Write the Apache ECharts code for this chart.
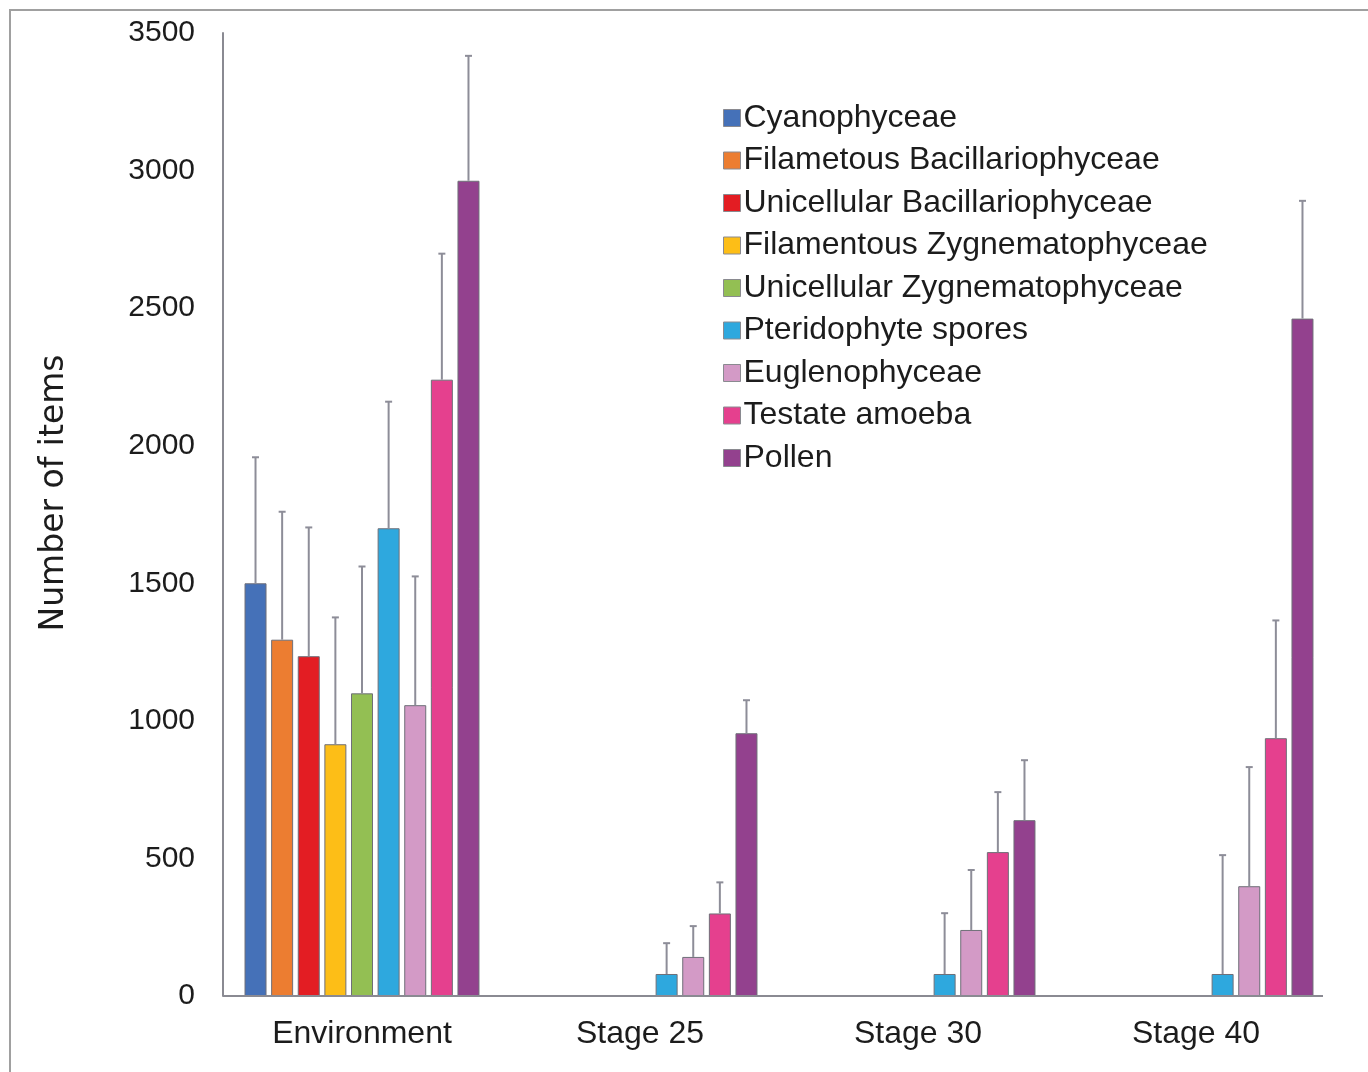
<!DOCTYPE html>
<html>
<head>
<meta charset="utf-8">
<title>Number of items by group</title>
<script src="https://cdn.jsdelivr.net/npm/echarts@6/dist/echarts.min.js"></script>
<style>
  html, body { margin: 0; padding: 0; background: #fff; }
  #chart { width: 1368px; height: 1072px; }
</style>
</head>
<body>
<div id="chart"></div>
<script>
// Groups along the x axis
const categories = ['Environment', 'Stage 25', 'Stage 30', 'Stage 40'];

// Taxa shown as bars, in legend order
const taxa = [
  'Cyanophyceae',
  'Filametous Bacillariophyceae',
  'Unicellular Bacillariophyceae',
  'Filamentous Zygnematophyceae',
  'Unicellular Zygnematophyceae',
  'Pteridophyte spores',
  'Euglenophyceae',
  'Testate amoeba',
  'Pollen'
];

// Mean counts per group (null = not recorded)
const cyanophyceae     = [1500, null, null, null];
const filBacillario    = [1295, null, null, null];
const uniBacillario    = [1235, null, null, null];
const filZygnemato     = [915,  null, null, null];
const uniZygnemato     = [1100, null, null, null];
const pteridophyte     = [1700, 80,   80,   80];
const euglenophyceae   = [1057, 142,  240,  399];
const testateAmoeba    = [2240, 300,  523,  937];
const pollen           = [2963, 955,  639,  2462];

// Standard deviations (upper error bars)
const cyanophyceaeSd   = [458, null, null, null];
const filBacillarioSd  = [465, null, null, null];
const uniBacillarioSd  = [468, null, null, null];
const filZygnematoSd   = [461, null, null, null];
const uniZygnematoSd   = [461, null, null, null];
const pteridophyteSd   = [460, 112, 221, 432];
const euglenophyceaeSd = [468, 112, 218, 433];
const testateAmoebaSd  = [458, 113, 218, 428];
const pollenSd         = [454, 120, 218, 428];

// Y axis ticks
const yTicks = [0, 500, 1000, 1500, 2000, 2500, 3000, 3500];

const means = [cyanophyceae, filBacillario, uniBacillario, filZygnemato, uniZygnemato,
               pteridophyte, euglenophyceae, testateAmoeba, pollen];
const sds = [cyanophyceaeSd, filBacillarioSd, uniBacillarioSd, filZygnematoSd, uniZygnematoSd,
             pteridophyteSd, euglenophyceaeSd, testateAmoebaSd, pollenSd];

const colors = ['#4571b8', '#ec7d31', '#e31d23', '#fdbe17', '#93bf53',
                '#2ea8de', '#d39ac6', '#e5408e', '#93418e'];

const BAR_W = 22;
const BAR_GAP_RATIO = 0.21;
const STEP = BAR_W * (1 + BAR_GAP_RATIO);
const FONT = '"Liberation Sans", Arial, Helvetica, sans-serif';
const TEXT_COLOR = '#1c1c1c';
const ERR_COLOR = '#8d8d98';
const AXIS_COLOR = '#8a8a92';

const barSeries = taxa.map((name, i) => ({
  name: name,
  type: 'bar',
  barWidth: BAR_W,
  barGap: (BAR_GAP_RATIO * 100) + '%',
  data: means[i].map(v => (v === null ? '-' : v)),
  itemStyle: { color: colors[i], borderColor: '#6f6f78', borderWidth: 1 },
  emphasis: { disabled: true },
  z: 2
}));

// Error bar records: [categoryIndex, seriesIndex, mean, upper]
const errData = [];
means.forEach((arr, s) => {
  arr.forEach((v, c) => {
    if (v !== null && sds[s][c] !== null) {
      errData.push([c, s, v, v + sds[s][c]]);
    }
  });
});

const errorSeries = {
  type: 'custom',
  name: 'error',
  data: errData,
  encode: { x: 0, y: [2, 3] },
  z: 5,
  silent: true,
  renderItem: function (params, api) {
    const c = api.value(0);
    const s = api.value(1);
    const lo = api.coord([c, api.value(2)]);
    const hi = api.coord([c, api.value(3)]);
    const x = lo[0] + (s - (taxa.length - 1) / 2) * STEP;
    const style = { stroke: ERR_COLOR, lineWidth: 2 };
    return {
      type: 'group',
      children: [
        { type: 'line', shape: { x1: x, y1: lo[1], x2: x, y2: hi[1] }, style: style },
        { type: 'line', shape: { x1: x - 3.5, y1: hi[1], x2: x + 3.5, y2: hi[1] }, style: style }
      ]
    };
  }
};

// Baseline drawn across the data extent, stopping short of the right edge
const baselineSeries = {
  type: 'custom',
  name: 'baseline',
  data: [[0]],
  silent: true,
  z: 6,
  renderItem: function (params, api) {
    const y = api.coord([0, 0])[1];
    const x0 = params.coordSys.x;
    const x1 = params.coordSys.x + params.coordSys.width - 12;
    return {
      type: 'line',
      shape: { x1: x0, y1: y, x2: x1, y2: y },
      style: { stroke: AXIS_COLOR, lineWidth: 2 }
    };
  }
};

const chart = echarts.init(document.getElementById('chart'), null, { renderer: 'canvas' });

chart.setOption({
  animation: false,
  backgroundColor: '#ffffff',
  color: colors,
  grid: { left: 223, right: 33, top: 33, bottom: 76, containLabel: false },
  legend: {
    data: taxa,
    orient: 'vertical',
    left: 718,
    top: 97,
    itemWidth: 17,
    itemHeight: 17,
    itemGap: 10.5,
    icon: 'rect',
    selectedMode: false,
    itemStyle: { borderColor: '#8a8a90', borderWidth: 1 },
    textStyle: { fontFamily: FONT, fontSize: 32, color: TEXT_COLOR, padding: [0, 0, 0, -2] }
  },
  xAxis: {
    type: 'category',
    data: categories,
    axisLine: { show: false },
    axisTick: { show: false },
    axisLabel: { fontFamily: FONT, fontSize: 32, color: TEXT_COLOR, margin: 22 },
    splitLine: { show: false }
  },
  yAxis: {
    type: 'value',
    min: yTicks[0],
    max: yTicks[yTicks.length - 1],
    interval: yTicks[1] - yTicks[0],
    axisLine: { show: true, lineStyle: { color: AXIS_COLOR, width: 2 } },
    axisTick: { show: false },
    splitLine: { show: false },
    axisLabel: {
      fontFamily: FONT, fontSize: 30, color: TEXT_COLOR, margin: 28,
      formatter: v => String(v)
    }
  },
  graphic: [
    {
      type: 'rect',
      shape: { x: 10, y: 10, width: 1400, height: 1100 },
      style: { fill: 'none', stroke: '#a0a0a0', lineWidth: 2 },
      silent: true,
      z: -10
    },
    {
      type: 'text',
      x: 54,
      y: 493,
      rotation: Math.PI / 2,
      style: {
        text: 'Number of items',
        fontFamily: '"DejaVu Sans", sans-serif',
        fontSize: 33,
        fill: TEXT_COLOR,
        align: 'center',
        verticalAlign: 'middle'
      }
    }
  ],
  series: barSeries.concat([errorSeries, baselineSeries])
});
</script>
</body>
</html>
